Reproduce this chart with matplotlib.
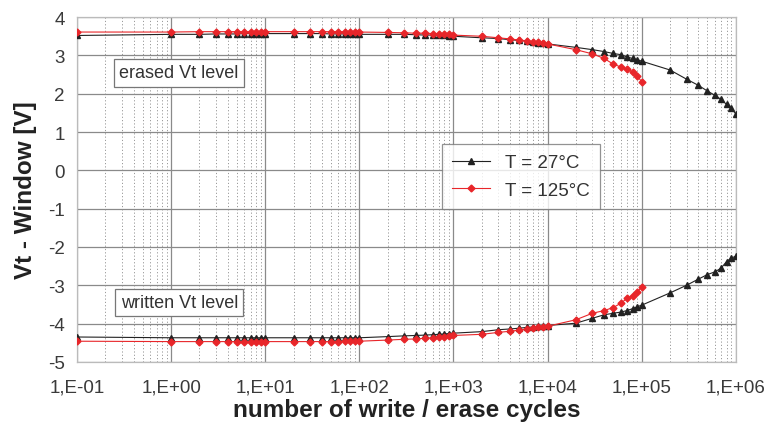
import math
import matplotlib
matplotlib.use("Agg")
import matplotlib.pyplot as plt
from matplotlib.ticker import FixedLocator, FuncFormatter

plt.rcParams["font.family"] = ["Liberation Sans", "DejaVu Sans"]
plt.rcParams["axes.unicode_minus"] = False

# cycle counts
cycles_27 = [0.1, 1, 2, 3, 4, 5, 6, 7, 8, 9, 10,
             20, 30, 40, 50, 60, 70, 80, 90, 100,
             200, 300, 400, 500, 600, 700, 800, 900, 1e3,
             2e3, 3e3, 4e3, 5e3, 6e3, 7e3, 8e3, 9e3, 1e4,
             2e4, 3e4, 4e4, 5e4, 6e4, 7e4, 8e4, 9e4, 1e5,
             2e5, 3e5, 4e5, 5e5, 6e5, 7e5, 8e5, 9e5, 1e6]
cycles_125 = cycles_27[:47]
decades = [0.1, 1, 10, 100, 1e3, 1e4, 1e5, 1e6]

erased_27 = [3.52, 3.55, 3.55, 3.56, 3.56, 3.56, 3.57, 3.57, 3.57, 3.57, 3.57,
             3.57, 3.57, 3.57, 3.56, 3.56, 3.56, 3.56, 3.55, 3.55,
             3.55, 3.55, 3.54, 3.53, 3.53, 3.52, 3.52, 3.51, 3.50,
             3.46, 3.44, 3.41, 3.39, 3.37, 3.35, 3.33, 3.32, 3.30,
             3.21, 3.15, 3.10, 3.05, 3.02, 2.96, 2.92, 2.89, 2.85,
             2.62, 2.38, 2.22, 2.07, 1.96, 1.85, 1.72, 1.63, 1.47]
erased_125 = [3.61, 3.61, 3.62, 3.62, 3.62, 3.62, 3.62, 3.62, 3.62, 3.62, 3.62,
              3.62, 3.62, 3.62, 3.62, 3.62, 3.61, 3.61, 3.61, 3.61,
              3.60, 3.59, 3.58, 3.58, 3.57, 3.56, 3.56, 3.55, 3.53,
              3.50, 3.46, 3.43, 3.40, 3.38, 3.36, 3.34, 3.32, 3.30,
              3.15, 3.04, 2.92, 2.77, 2.70, 2.64, 2.57, 2.47, 2.31]
written_27 = [-4.35, -4.37, -4.37, -4.37, -4.37, -4.37, -4.37, -4.37, -4.37, -4.37, -4.37,
              -4.37, -4.37, -4.37, -4.37, -4.37, -4.37, -4.37, -4.37, -4.37,
              -4.34, -4.32, -4.31, -4.30, -4.29, -4.28, -4.27, -4.26, -4.25,
              -4.21, -4.16, -4.14, -4.12, -4.10, -4.09, -4.07, -4.06, -4.05,
              -3.99, -3.86, -3.77, -3.73, -3.70, -3.66, -3.61, -3.56, -3.52,
              -3.20, -3.00, -2.84, -2.72, -2.65, -2.55, -2.38, -2.29, -2.24]
written_125 = [-4.46, -4.47, -4.47, -4.47, -4.47, -4.47, -4.47, -4.47, -4.47, -4.47, -4.47,
               -4.47, -4.47, -4.47, -4.47, -4.47, -4.46, -4.46, -4.46, -4.46,
               -4.43, -4.41, -4.40, -4.38, -4.37, -4.36, -4.35, -4.33, -4.31,
               -4.28, -4.23, -4.20, -4.17, -4.14, -4.12, -4.10, -4.09, -4.07,
               -3.90, -3.73, -3.66, -3.58, -3.47, -3.34, -3.27, -3.17, -3.05]

fig = plt.figure(figsize=(7.68, 4.31), dpi=100)
ax = fig.add_axes([0.1003, 0.158, 0.8577, 0.80])

ax.plot(cycles_27, erased_27, color="#222222", lw=0.8, marker="^", ms=4.5,
        label="T = 27°C", zorder=3)
ax.plot(cycles_125, erased_125, color="#e8262a", lw=0.8, marker="D", ms=3.5,
        label="T = 125°C", zorder=4)
ax.plot(cycles_27, written_27, color="#222222", lw=0.8, marker="^", ms=4.5, zorder=3)
ax.plot(cycles_125, written_125, color="#e8262a", lw=0.8, marker="D", ms=3.5, zorder=4)

ax.set_xscale("log")
ax.set_xlim(0.1, 1e6)
ax.set_ylim(-5, 4)
ax.set_yticks(range(-5, 5))
ax.xaxis.set_major_locator(FixedLocator(decades))
ax.xaxis.set_minor_locator(FixedLocator([d * k for d in decades[:-1] for k in range(2, 10)]))
ax.xaxis.set_major_formatter(FuncFormatter(lambda v, p: "1,E%+03d" % round(math.log10(v))))
ax.xaxis.set_minor_formatter(FuncFormatter(lambda v, p: ""))

ax.grid(True, which="major", color="#8a8a8a", lw=0.9)
ax.grid(True, which="minor", axis="x", color="#999999", lw=0.7, ls=(0, (1.2, 2.2)))
ax.set_axisbelow(True)
ax.tick_params(which="both", length=0, colors="#3a3a3a", labelsize=13.5, pad=9)
ax.tick_params(axis="x", pad=12)
for s in ax.spines.values():
    s.set_color("#bbbbbb")
    s.set_linewidth(0.9)

ax.set_xlabel("number of write / erase cycles", fontsize=17.5, fontweight="bold",
              color="#222222", labelpad=2)
ax.set_ylabel("Vt - Window [V]", fontsize=17.5, fontweight="bold", color="#222222",
              labelpad=8)

box = dict(boxstyle="square,pad=0.3", fc="white", ec="#777777", lw=0.9)
ax.text(0.28, 2.55, "erased Vt level", fontsize=13, color="#333333", bbox=box,
        va="center")
ax.text(0.29, -3.45, "written Vt level", fontsize=13, color="#333333", bbox=box,
        va="center")

leg = ax.legend(loc="upper left", bbox_to_anchor=(0.54, 0.66), fontsize=13.5,
                frameon=True, fancybox=False, edgecolor="#777777",
                handlelength=2.0, borderpad=0.55, labelspacing=0.55)
leg.get_frame().set_linewidth(0.9)
for t in leg.get_texts():
    t.set_color("#333333")

fig.savefig("out.png", dpi=100)
